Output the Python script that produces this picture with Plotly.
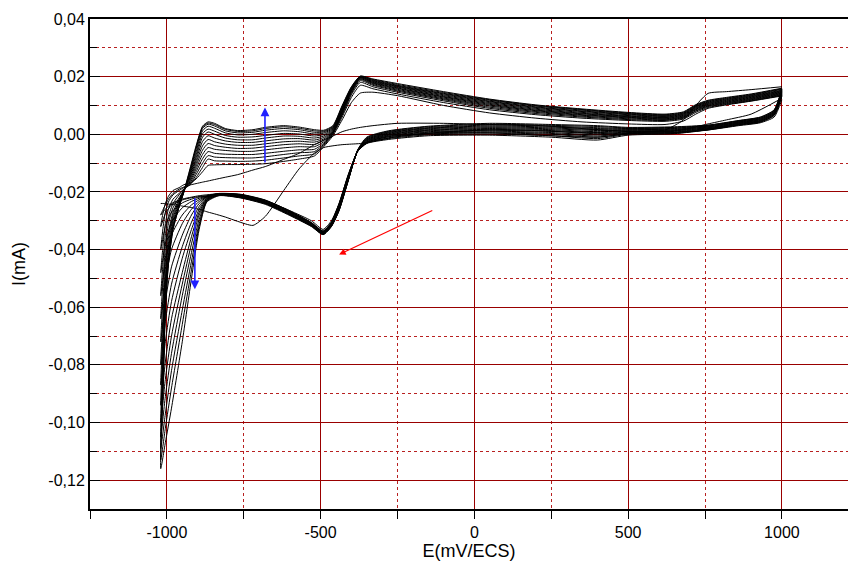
import plotly.graph_objects as go

# Potential grids (mV vs ECS) shared by every sweep
E_FWD = [-1020, -1012, -1005, -995, -980, -960, -945, -925, -905, -884, -866,
         -845, -810, -770, -720, -680, -620, -570, -520, -490,
         -460, -430, -400, -371,
         -330, -250, -100, 50, 200, 350, 500, 620,
         680, 720, 760, 820, 900, 1000]
E_REV = [1000, 975, 930, 860, 760, 650, 500, 400, 250, 50, -150,
         -280, -350, -380, -410, -440, -465, -492, -530, -600, -680, -760, -830,
         -870, -895, -920, -950, -985, -1005, -1020]

# Currents in microamperes
# first sweep (anodic only)
s00_fwd = [-24.0, -24.0, -24.1, -24.2, -24.4, -24.7, -25.0, -25.3, -25.8, -26.4, -27.0,
           -27.6, -28.7, -30.2, -31.6, -28.5, -19.5, -12.0, -6.5, -4.6,
           -4.0, -3.6, -3.4, -3.2,
           -2.4, -0.8, 0.8, 1.5, 1.3, 0.6, 0.4, 1.5,
           5.0, 10.0, 14.2, 14.8, 15.5, 16.5]

c01_rev = [12.0, 6.0, 4.0, 3.0, 1.5, 0.6, 0.2, -1.0, -0.5, 0.5, 0.3,
           -0.8, -2.8, -6.0, -14.0, -24.0, -30.0, -33.0, -30.0, -26.5, -23.0, -21.0, -20.6,
           -21.0, -21.3, -21.8, -22.5, -24.0, -26.0, -28.0]
c01_fwd = [-28, -26, -24.5, -22.5, -20.5, -19, -18.3, -17.6, -17.1, -16.6, -16.2,
           -15.7, -14.9, -14.0, -12.4, -11.2, -8.7, -6.6, -3.6, -2.0,
           -0.6, 0.9, 1.8, 2.4,
           3.0, 3.8, 3.8, 3.4, 3.1, 2.0, 1.0, 1.0,
           1.6, 2.6, 3.6, 5.0, 7.0, 12.5]

c02_rev = [13.2, 6.5, 4.2, 3.2, 1.5, 0.2, -0.3, -2.0, -1.0, -0.3, -0.5,
           -1.8, -3.2, -6.0, -14.0, -24.0, -30.5, -33.5, -30.6, -26.6, -22.8, -20.8, -20.5,
           -21.3, -21.6, -22.0, -22.8, -24.5, -27.5, -32]
c02_fwd = [-32, -27, -24, -21.5, -19.5, -18.5, -17.5, -17, -15.5, -13, -10.8,
           -10.6, -10.5, -10.5, -10.4, -10.2, -9.4, -8.6, -7.5, -4.3,
           -0.5, 5.0, 11.0, 14.3,
           14.6, 13.4, 10.0, 7.4, 5.6, 4.3, 3.6, 3.4,
           4.6, 7.0, 9.0, 10.2, 11.5, 13.3]

c03_rev = [13.4, 6.7, 4.3, 3.3, 1.6, 0.3, 0.0, -1.5, -0.5, 0.1, -0.2,
           -1.5, -3.1, -6.0, -14.2, -24.2, -30.6, -33.6, -30.7, -26.7, -22.9, -20.9, -20.6,
           -21.4, -21.8, -22.5, -23.8, -27, -32, -40]
c03_fwd = [-40, -32, -27, -23.5, -21, -19.5, -18.5, -17.5, -15, -11.5, -8.6,
           -9.2, -9.3, -9.4, -9.3, -9.0, -8.2, -7.5, -6.8, -3.9,
           0.0, 6.0, 12.8, 17.0,
           15.8, 14.0, 11.0, 8.5, 6.8, 5.6, 4.8, 4.5,
           5.3, 7.6, 9.3, 10.4, 11.6, 13.5]

c04_rev = [13.6, 6.8, 4.4, 3.4, 1.7, 0.5, 0.2, -1.0, 0.0, 0.5, 0.1,
           -1.2, -3.0, -6.0, -14.5, -24.4, -30.8, -33.8, -30.8, -26.8, -23.0, -21.0, -20.6,
           -21.5, -22.2, -23.3, -25.5, -30.5, -38, -48]
c04_fwd = [-48, -38, -31, -26, -22.5, -20.5, -19, -17.5, -14, -10, -7.4,
           -7.9, -8.1, -8.2, -8.2, -7.8, -7.0, -6.4, -6.0, -3.5,
           0.2, 6.6, 13.7, 18.0,
           16.5, 14.6, 11.6, 9.0, 7.2, 6.0, 5.1, 4.8,
           5.6, 8.0, 9.6, 10.6, 11.8, 13.7]

c05_rev = [13.8, 7.0, 4.6, 3.5, 1.8, 0.6, 0.4, -0.6, 0.3, 0.8, 0.4,
           -0.9, -2.8, -6.0, -14.8, -24.7, -30.9, -33.9, -30.9, -26.9, -23.1, -21.1, -20.7,
           -21.6, -22.7, -24.5, -28, -35, -44, -56]
c05_fwd = [-56, -44, -35, -28.5, -24, -21, -19, -17, -13, -8.5, -6.0,
           -6.6, -6.9, -7.0, -7.0, -6.6, -5.9, -5.4, -5.2, -3.1,
           0.4, 7.0, 14.2, 18.6,
           17.0, 15.0, 12.0, 9.4, 7.6, 6.3, 5.4, 5.0,
           5.8, 8.2, 9.8, 10.8, 12.0, 13.9]

c06_rev = [14.0, 7.1, 4.7, 3.7, 1.9, 0.8, 0.6, -0.2, 0.6, 1.1, 0.7,
           -0.6, -2.6, -6.0, -15.0, -25.0, -31.0, -34.0, -31.0, -27.0, -23.2, -21.2, -20.7,
           -21.7, -23.3, -26, -31, -40, -51, -64]
c06_fwd = [-64, -50, -39, -31, -25.5, -22, -19.5, -16.5, -12, -7, -4.6,
           -5.2, -5.6, -5.9, -5.9, -5.4, -4.7, -4.3, -4.3, -2.6,
           0.6, 7.4, 14.6, 19.0,
           17.3, 15.3, 12.3, 9.8, 7.9, 6.6, 5.7, 5.2,
           6.0, 8.5, 10.0, 11.0, 12.2, 14.1]

c07_rev = [14.2, 7.3, 4.8, 3.8, 2.0, 1.0, 0.8, 0.2, 1.0, 1.4, 0.9,
           -0.4, -2.4, -6.0, -15.2, -25.3, -31.2, -34.1, -31.1, -27.2, -23.4, -21.3, -20.8,
           -21.8, -24, -28, -35, -46, -58, -72]
c07_fwd = [-72, -56, -43, -34, -27, -22.5, -19.5, -16, -11, -5.5, -3.2,
           -3.9, -4.5, -4.9, -4.8, -4.3, -3.6, -3.3, -3.5, -2.1,
           0.8, 7.7, 14.9, 19.2,
           17.6, 15.6, 12.6, 10.1, 8.2, 6.8, 5.9, 5.4,
           6.2, 8.7, 10.2, 11.2, 12.4, 14.3]

c08_rev = [14.4, 7.4, 5.0, 3.9, 2.2, 1.2, 1.0, 0.6, 1.3, 1.7, 1.2,
           -0.2, -2.3, -5.9, -15.4, -25.5, -31.3, -34.2, -31.3, -27.3, -23.5, -21.4, -20.8,
           -22.0, -25, -30.5, -39, -52, -65, -80]
c08_fwd = [-80, -62, -47, -36, -28, -23, -19.5, -15.5, -10, -4, -1.8,
           -2.6, -3.4, -3.8, -3.8, -3.3, -2.6, -2.4, -2.7, -1.6,
           1.0, 8.0, 15.1, 19.4,
           17.8, 15.9, 12.9, 10.4, 8.4, 7.1, 6.1, 5.6,
           6.4, 8.9, 10.4, 11.4, 12.6, 14.5]

c09_rev = [14.6, 7.6, 5.1, 4.1, 2.3, 1.4, 1.2, 0.9, 1.6, 2.0, 1.4,
           0.0, -2.1, -5.9, -15.5, -25.7, -31.5, -34.3, -31.4, -27.4, -23.6, -21.5, -20.9,
           -22.2, -26, -33, -43, -58, -72, -87]
c09_fwd = [-87, -67, -50, -38, -29, -23.5, -19.5, -15, -9, -2.5, -0.5,
           -1.3, -2.3, -2.8, -2.8, -2.3, -1.6, -1.5, -2.0, -1.1,
           1.2, 8.2, 15.3, 19.6,
           18.0, 16.1, 13.1, 10.7, 8.7, 7.3, 6.3, 5.8,
           6.6, 9.1, 10.6, 11.6, 12.8, 14.7]

c10_rev = [14.8, 7.7, 5.3, 4.2, 2.5, 1.6, 1.4, 1.3, 1.9, 2.3, 1.6,
           0.2, -1.9, -5.8, -15.6, -25.9, -31.6, -34.4, -31.5, -27.6, -23.7, -21.6, -20.9,
           -22.4, -27, -35.5, -48, -64, -79, -94]
c10_fwd = [-94, -72, -53, -40, -30, -24, -20, -14.5, -8, -1.0, 0.8,
           0.0, -1.3, -1.9, -1.9, -1.3, -0.6, -0.7, -1.3, -0.6,
           1.5, 8.5, 15.5, 19.7,
           18.2, 16.4, 13.4, 11.0, 9.0, 7.6, 6.5, 6.0,
           6.8, 9.3, 10.8, 11.8, 13.0, 14.9]

c11_rev = [15.0, 7.9, 5.4, 4.3, 2.6, 1.8, 1.6, 1.6, 2.2, 2.6, 1.9,
           0.4, -1.8, -5.8, -15.7, -26.0, -31.7, -34.5, -31.6, -27.7, -23.8, -21.7, -21.0,
           -22.6, -28, -38, -52, -70, -85, -100]
c11_fwd = [-100, -76, -55, -42, -31, -24.5, -20, -14, -7, 0.2, 1.8,
           1.1, -0.4, -1.0, -0.9, -0.4, 0.3, 0.1, -0.6, -0.1,
           1.8, 8.8, 15.7, 19.8,
           18.4, 16.6, 13.7, 11.3, 9.3, 7.9, 6.8, 6.2,
           7.0, 9.5, 11.0, 12.0, 13.2, 15.1]

c12_rev = [15.2, 8.0, 5.6, 4.5, 2.8, 2.0, 1.8, 2.0, 2.5, 2.9, 2.1,
           0.6, -1.6, -5.7, -15.8, -26.2, -31.8, -34.6, -31.7, -27.8, -23.9, -21.8, -21.0,
           -22.8, -29.5, -41, -56, -76, -91, -105]
c12_fwd = [-105, -80, -57, -43, -32, -25, -20, -13.5, -6, 1.2, 2.8,
           2.1, 0.5, -0.2, 0.0, 0.6, 1.2, 0.9, 0.1, 0.4,
           2.1, 9.1, 15.9, 19.9,
           18.6, 16.8, 14.0, 11.5, 9.5, 8.1, 7.0, 6.4,
           7.2, 9.7, 11.2, 12.2, 13.4, 15.3]

c13_rev = [15.4, 8.2, 5.7, 4.6, 2.9, 2.2, 2.0, 2.3, 2.8, 3.2, 2.3,
           0.8, -1.4, -5.7, -15.9, -26.3, -31.9, -34.7, -31.8, -27.9, -24.0, -21.9, -21.1,
           -23.0, -31, -44, -61, -82, -97, -109]
c13_fwd = [-109, -83, -59, -44, -32, -25, -20, -13, -5, 2.0, 3.5,
           2.9, 1.2, 0.5, 0.7, 1.4, 2.0, 1.6, 0.7, 0.8,
           2.4, 9.4, 16.1, 20.0,
           18.8, 17.0, 14.2, 11.8, 9.8, 8.4, 7.2, 6.6,
           7.4, 9.9, 11.4, 12.4, 13.6, 15.6]

c14_rev = [15.6, 8.4, 5.9, 4.7, 3.1, 2.4, 2.2, 2.7, 3.1, 3.5, 2.6,
           1.0, -1.2, -5.6, -16.0, -26.4, -32.0, -34.8, -31.9, -28.0, -24.1, -22.0, -21.2,
           -23.2, -32, -47, -66, -88, -102, -113]
c14_fwd = [-113, -86, -61, -45, -33, -25, -20, -12.5, -4.5, 2.5, 3.9,
           3.4, 1.7, 1.0, 1.2, 2.0, 2.6, 2.1, 1.2, 1.1,
           2.7, 9.7, 16.3, 20.1,
           19.0, 17.3, 14.5, 12.0, 10.0, 8.6, 7.4, 6.8,
           7.6, 10.1, 11.6, 12.6, 13.8, 15.8]

c15_rev = [15.8, 8.5, 6.0, 4.8, 3.2, 2.6, 2.4, 3.0, 3.4, 3.8, 2.8,
           1.2, -1.0, -5.5, -16.0, -26.5, -32.0, -34.8, -32.0, -28.2, -24.3, -22.1, -21.3,
           -23.5, -33, -50, -72, -95, -107, -116]
c15_fwd = [-116, -88, -62, -45, -33, -25, -20, -12, -4, 2.8, 4.3,
           3.8, 2.0, 1.3, 1.6, 2.4, 3.0, 2.5, 1.6, 1.4,
           3.0, 10.0, 16.5, 20.2,
           19.2, 17.6, 14.8, 12.2, 10.2, 8.8, 7.6, 7.0,
           7.8, 10.3, 11.8, 12.8, 14.0, 16.0]

CYCLES = [
    (c01_rev, c01_fwd), (c02_rev, c02_fwd), (c03_rev, c03_fwd), (c04_rev, c04_fwd),
    (c05_rev, c05_fwd), (c06_rev, c06_fwd), (c07_rev, c07_fwd), (c08_rev, c08_fwd),
    (c09_rev, c09_fwd), (c10_rev, c10_fwd), (c11_rev, c11_fwd), (c12_rev, c12_fwd),
    (c13_rev, c13_fwd), (c14_rev, c14_fwd), (c15_rev, c15_fwd),
]

Y_TICKS = [0.04, 0.02, 0.00, -0.02, -0.04, -0.06, -0.08, -0.10, -0.12]
Y_TICK_TEXT = ["0,04", "0,02", "0,00", "-0,02", "-0,04", "-0,06", "-0,08", "-0,10", "-0,12"]
Y_MINOR = [0.03, 0.01, -0.01, -0.03, -0.05, -0.07, -0.09, -0.11]
X_TICKS = [-1000, -500, 0, 500, 1000]
X_TICK_TEXT = ["-1000", "-500", "0", "500", "1000"]
X_MINOR = [-1250, -750, -250, 250, 750]

FONT = "Liberation Sans, Arial, sans-serif"
GRID = "#990000"
GRID_MINOR = "#b82020"

fig = go.Figure()

line_style = dict(color="black", width=1.0, shape="spline", smoothing=0.6)

fig.add_trace(go.Scatter(x=E_FWD, y=[v / 1000 for v in s00_fwd], mode="lines",
                         line=line_style, hoverinfo="skip"))
for rev, fwd in CYCLES:
    xs = E_REV + E_FWD[1:]
    ys = [v / 1000 for v in rev + fwd[1:]]
    fig.add_trace(go.Scatter(x=xs, y=ys, mode="lines", line=line_style, hoverinfo="skip"))

# trend arrows
arrows = [
    dict(x=-681, y=0.0093, ax=-681, ay=-0.0103, color="#2020ff", w=1.6),
    dict(x=-909, y=-0.0538, ax=-909, ay=-0.0217, color="#2020ff", w=1.6),
    dict(x=-440, y=-0.0417, ax=-132, ay=-0.0262, color="#ff0000", w=1.2),
]
for a in arrows:
    fig.add_annotation(x=a["x"], y=a["y"], ax=a["ax"], ay=a["ay"], xref="x", yref="y",
                       axref="x", ayref="y", text="", showarrow=True, arrowhead=2,
                       arrowsize=1.1, arrowwidth=a["w"], arrowcolor=a["color"], standoff=0)

fig.update_xaxes(
    range=[-1250, 1215], tickvals=X_TICKS, ticktext=X_TICK_TEXT,
    showline=True, linecolor="black", linewidth=2, mirror=True,
    ticks="outside", ticklen=8, tickwidth=1.2, tickcolor="black",
    showgrid=True, gridcolor=GRID, gridwidth=1, zeroline=False,
    minor=dict(tickvals=X_MINOR, ticks="outside", ticklen=8, tickwidth=1.2, tickcolor="black",
               showgrid=True, gridcolor=GRID_MINOR, griddash="dot", gridwidth=1),
    tickfont=dict(family=FONT, size=16, color="black"),
    title=dict(text="E(mV/ECS)", font=dict(family=FONT, size=18, color="black"), standoff=4),
)
fig.update_yaxes(
    range=[-0.13, 0.04], tickvals=Y_TICKS, ticktext=Y_TICK_TEXT,
    showline=True, linecolor="black", linewidth=2, mirror=False,
    ticks="inside", ticklen=10, tickwidth=1.2, tickcolor="black",
    showgrid=True, gridcolor=GRID, gridwidth=1, zeroline=False,
    minor=dict(tickvals=Y_MINOR, ticks="inside", ticklen=7, tickwidth=1.2, tickcolor="black",
               showgrid=True, gridcolor=GRID_MINOR, griddash="dot", gridwidth=1),
    tickfont=dict(family=FONT, size=16, color="black"),
    title=dict(text="I(mA)", font=dict(family=FONT, size=18, color="black"), standoff=18),
)
fig.update_layout(
    width=848, height=563,
    margin=dict(l=90, r=0, t=19, b=54),
    paper_bgcolor="white", plot_bgcolor="white",
    showlegend=False,
    font=dict(family=FONT),
)

fig.write_html("out.html")
